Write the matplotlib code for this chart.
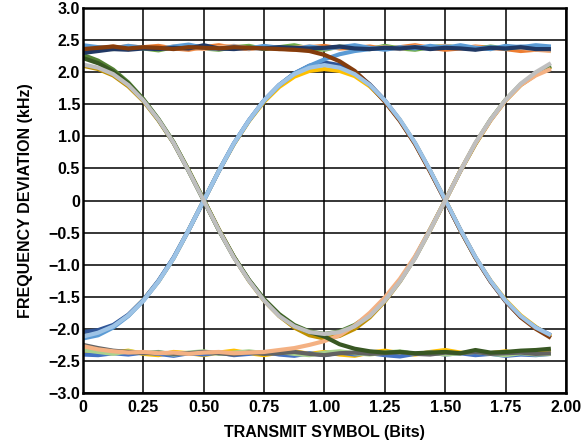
import matplotlib
matplotlib.use("Agg")
import matplotlib.pyplot as plt

plt.rcParams['font.family'] = ['Liberation Sans', 'DejaVu Sans']
plt.rcParams['font.weight'] = 'bold'

# sample positions (bits), 1/16 bit spacing
x = [0, 0.0625, 0.125, 0.1875, 0.25, 0.3125, 0.375, 0.4375,
     0.5, 0.5625, 0.625, 0.6875, 0.75, 0.8125, 0.875, 0.9375,
     1.0, 1.0625, 1.125, 1.1875, 1.25, 1.3125, 1.375, 1.4375,
     1.5, 1.5625, 1.625, 1.6875, 1.75, 1.8125, 1.875, 1.9375]

# steady high traces
hhh_orange = [2.34, 2.37, 2.40, 2.36, 2.39, 2.41, 2.37, 2.35, 2.39, 2.42, 2.38, 2.36, 2.40, 2.37, 2.35, 2.39,
              2.41, 2.37, 2.38, 2.40, 2.36, 2.39, 2.42, 2.38, 2.35, 2.37, 2.40, 2.38, 2.36, 2.33, 2.35, 2.37]
hhh_green = [2.40, 2.38, 2.36, 2.40, 2.37, 2.34, 2.39, 2.41, 2.37, 2.35, 2.39, 2.41, 2.36, 2.39, 2.42, 2.37,
             2.35, 2.40, 2.38, 2.36, 2.41, 2.37, 2.35, 2.39, 2.41, 2.38, 2.36, 2.40, 2.37, 2.39, 2.36, 2.34]
hhh_peach = [2.36, 2.39, 2.37, 2.41, 2.38, 2.36, 2.40, 2.38, 2.36, 2.39, 2.41, 2.37, 2.39, 2.36, 2.38, 2.40,
             2.37, 2.39, 2.41, 2.37, 2.39, 2.36, 2.40, 2.38, 2.41, 2.37, 2.39, 2.36, 2.40, 2.38, 2.35, 2.33]
hhh_lblue = [2.42, 2.39, 2.37, 2.41, 2.38, 2.36, 2.40, 2.43, 2.38, 2.36, 2.40, 2.37, 2.41, 2.38, 2.36, 2.40,
             2.37, 2.39, 2.42, 2.38, 2.35, 2.39, 2.37, 2.41, 2.38, 2.42, 2.38, 2.36, 2.41, 2.39, 2.42, 2.40]
hhh_dblue = [2.30, 2.33, 2.36, 2.35, 2.37, 2.36, 2.38, 2.37, 2.42, 2.37, 2.36, 2.38, 2.37, 2.39, 2.38, 2.37,
             2.38, 2.40, 2.37, 2.36, 2.38, 2.37, 2.39, 2.36, 2.38, 2.37, 2.35, 2.38, 2.37, 2.39, 2.36, 2.36]

# steady low traces
lll_yellow = [-2.36, -2.40, -2.37, -2.34, -2.39, -2.41, -2.36, -2.38, -2.41, -2.37, -2.34, -2.38, -2.41, -2.37, -2.35, -2.39,
              -2.36, -2.40, -2.42, -2.37, -2.34, -2.38, -2.40, -2.36, -2.33, -2.37, -2.40, -2.38, -2.35, -2.39, -2.37, -2.34]
lll_blue = [-2.40, -2.41, -2.38, -2.40, -2.37, -2.39, -2.42, -2.38, -2.40, -2.37, -2.41, -2.39, -2.36, -2.40, -2.42, -2.38,
            -2.41, -2.37, -2.40, -2.38, -2.41, -2.43, -2.39, -2.37, -2.40, -2.38, -2.41, -2.39, -2.42, -2.40, -2.41, -2.39]
lll_lgreen = [-2.33, -2.36, -2.39, -2.35, -2.38, -2.36, -2.40, -2.37, -2.35, -2.39, -2.37, -2.35, -2.38, -2.36, -2.39, -2.41,
              -2.37, -2.35, -2.38, -2.40, -2.37, -2.35, -2.39, -2.37, -2.40, -2.38, -2.36, -2.39, -2.41, -2.38, -2.40, -2.39]
lll_dgray = [-2.25, -2.30, -2.34, -2.36, -2.38, -2.37, -2.39, -2.38, -2.36, -2.38, -2.40, -2.37, -2.39, -2.38, -2.36, -2.39,
             -2.41, -2.38, -2.37, -2.39, -2.38, -2.36, -2.39, -2.40, -2.37, -2.38, -2.36, -2.39, -2.38, -2.37, -2.39, -2.38]

# transitions
hlh_olive = [2.10, 2.05, 1.95, 1.78, 1.55, 1.25, 0.90, 0.47, 0.01, -0.45, -0.88, -1.25, -1.56, -1.80, -1.98, -2.10,
             -2.15, -2.11, -2.00, -1.82, -1.57, -1.26, -0.89, -0.46, 0.00, 0.46, 0.88, 1.25, 1.56, 1.80, 1.96, 2.08]
lhl_yellow = [-2.12, -2.06, -1.96, -1.79, -1.55, -1.26, -0.90, -0.46, 0.00, 0.46, 0.88, 1.24, 1.54, 1.77, 1.93, 2.02,
              2.05, 2.02, 1.94, 1.78, 1.55, 1.25, 0.89, 0.46, 0.01, -0.46, -0.89, -1.25, -1.55, -1.79, -1.97, -2.12]
hlh_green = [2.27, 2.18, 2.04, 1.84, 1.58, 1.27, 0.91, 0.47, 0.01, -0.46, -0.88, -1.24, -1.54, -1.77, -1.94, -2.04,
             -2.08, -2.04, -1.94, -1.78, -1.55, -1.25, -0.89, -0.45, 0.00, 0.46, 0.89, 1.26, 1.57, 1.81, 1.98, 2.10]
lhl_blue = [-2.05, -2.02, -1.94, -1.78, -1.55, -1.25, -0.89, -0.46, 0.00, 0.46, 0.89, 1.25, 1.56, 1.80, 1.98, 2.10,
            2.15, 2.11, 2.00, 1.81, 1.56, 1.25, 0.89, 0.46, 0.00, -0.46, -0.89, -1.26, -1.57, -1.81, -1.98, -2.10]
hll_dgreen = [2.22, 2.14, 2.01, 1.82, 1.57, 1.26, 0.90, 0.46, 0.00, -0.46, -0.88, -1.24, -1.54, -1.78, -1.95, -2.05,
              -2.12, -2.24, -2.31, -2.35, -2.37, -2.36, -2.38, -2.37, -2.36, -2.38, -2.33, -2.37, -2.36, -2.34, -2.33, -2.31]
lhh_mblue = [-2.15, -2.10, -1.98, -1.80, -1.56, -1.26, -0.90, -0.46, 0.00, 0.46, 0.89, 1.25, 1.56, 1.80, 1.98, 2.10,
             2.20, 2.28, 2.33, 2.36, 2.38, 2.37, 2.39, 2.37, 2.40, 2.38, 2.36, 2.39, 2.37, 2.40, 2.38, 2.36]
llh_peach = [-2.27, -2.32, -2.35, -2.37, -2.36, -2.38, -2.37, -2.39, -2.37, -2.36, -2.38, -2.37, -2.36, -2.33, -2.30, -2.25,
             -2.19, -2.10, -1.95, -1.75, -1.51, -1.22, -0.87, -0.45, 0.00, 0.46, 0.89, 1.25, 1.56, 1.80, 1.95, 2.05]
hhl_brown = [2.36, 2.38, 2.40, 2.37, 2.39, 2.38, 2.36, 2.39, 2.38, 2.37, 2.39, 2.38, 2.37, 2.36, 2.35, 2.33,
             2.27, 2.17, 2.02, 1.80, 1.54, 1.24, 0.88, 0.45, 0.00, -0.46, -0.89, -1.26, -1.57, -1.82, -2.00, -2.14]
lhl_lblue = [-2.12, -2.06, -1.96, -1.79, -1.56, -1.26, -0.90, -0.46, 0.00, 0.46, 0.89, 1.25, 1.56, 1.80, 1.97, 2.07,
             2.11, 2.07, 1.97, 1.80, 1.56, 1.26, 0.90, 0.47, 0.01, -0.45, -0.88, -1.25, -1.56, -1.80, -1.98, -2.10]
hlh_lgray = [2.12, 2.07, 1.97, 1.80, 1.56, 1.26, 0.90, 0.46, 0.00, -0.46, -0.89, -1.25, -1.56, -1.80, -1.96, -2.05,
             -2.08, -2.05, -1.96, -1.80, -1.56, -1.26, -0.90, -0.46, 0.00, 0.46, 0.90, 1.26, 1.57, 1.82, 2.00, 2.14]

traces = [
    (hhh_orange, '#ED7D31'), (lll_yellow, '#FFC000'), (hhh_green, '#70AD47'), (lll_blue, '#4472C4'),
    (hhh_peach, '#F4B183'), (lll_lgreen, '#A9D18E'), (hhh_lblue, '#5B9BD5'), (lll_dgray, '#636363'),
    (hlh_olive, '#BF9000'), (lhl_yellow, '#FFC000'), (hlh_green, '#548235'), (lhl_blue, '#2F5597'),
    (lhh_mblue, '#5B9BD5'), (hhh_dblue, '#203864'), (llh_peach, '#F4B183'), (hhl_brown, '#843C0C'),
    (hll_dgreen, '#385723'), (lhl_lblue, '#9DC3E6'), (hlh_lgray, '#BFBFBF'),
]

xticks = [0, 0.25, 0.5, 0.75, 1.0, 1.25, 1.5, 1.75, 2.0]
xticklabels = ['0', '0.25', '0.50', '0.75', '1.00', '1.25', '1.50', '1.75', '2.00']
yticks = [-3.0, -2.5, -2.0, -1.5, -1.0, -0.5, 0, 0.5, 1.0, 1.5, 2.0, 2.5, 3.0]
yticklabels = ['\u22123.0', '\u22122.5', '\u22122.0', '\u22121.5', '\u22121.0', '\u22120.5', '0',
               '0.5', '1.0', '1.5', '2.0', '2.5', '3.0']

fig = plt.figure(figsize=(5.87, 4.46), dpi=100)
ax = fig.add_axes([0.1414, 0.1188, 0.8228, 0.8632])

for y, c in traces:
    ax.plot(x, y, color=c, linewidth=3, solid_joinstyle='round', solid_capstyle='butt')

ax.set_xlim(0, 2.0)
ax.set_ylim(-3.0, 3.0)
ax.set_xticks(xticks)
ax.set_xticklabels(xticklabels, fontsize=11.5, fontweight='bold')
ax.set_yticks(yticks)
ax.set_yticklabels(yticklabels, fontsize=11.5, fontweight='bold')
ax.tick_params(axis='x', length=0, pad=5)
ax.tick_params(axis='y', length=0, pad=2)
ax.grid(True, color='black', linewidth=1.1)
ax.set_axisbelow(True)
for s in ax.spines.values():
    s.set_linewidth(1.8)
    s.set_color('black')

ax.set_xlabel('TRANSMIT SYMBOL (Bits)', fontsize=11.5, fontweight='bold', labelpad=7)
ax.set_ylabel('FREQUENCY DEVIATION (kHz)', fontsize=11.5, fontweight='bold', labelpad=11)

fig.savefig('out.png', dpi=100)
